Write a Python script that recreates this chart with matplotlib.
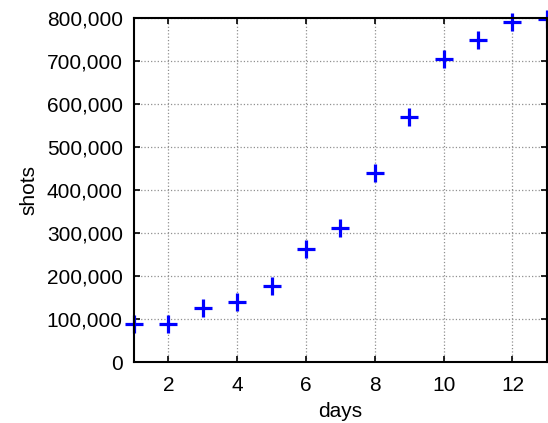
import matplotlib
matplotlib.use("Agg")
import matplotlib.pyplot as plt
from matplotlib.ticker import FuncFormatter

days = [1, 2, 3, 4, 5, 6, 7, 8, 9, 10, 11, 12, 13]
shots = [88000, 88000, 125000, 140000, 177000, 263000, 311000,
         440000, 570000, 706000, 750000, 792000, 797000]

plt.rcParams['font.family'] = ['Liberation Sans', 'DejaVu Sans']
plt.rcParams['font.size'] = 15

fig = plt.figure(figsize=(5.48, 4.23), dpi=100)
ax = fig.add_axes([0.2445, 0.144, 0.7535, 0.813])

ax.plot(days, shots, '+', color='#0000ff', markersize=13, markeredgewidth=2.3,
        clip_on=False)

ax.set_xlim(1, 13)
ax.set_ylim(0, 800000)
ax.set_xticks([2, 4, 6, 8, 10, 12])
ax.set_yticks(range(0, 800001, 100000))
ax.yaxis.set_major_formatter(FuncFormatter(lambda v, p: f"{int(v):,}"))

ax.grid(True, linestyle=':', color='#909090', linewidth=0.9)
ax.tick_params(direction='in', top=True, right=True, length=4, width=1.2)
ax.tick_params(axis='x', pad=10)
ax.tick_params(axis='y', pad=8)
for s in ax.spines.values():
    s.set_linewidth(1.5)

ax.set_xlabel('days', labelpad=5)
ax.set_ylabel('shots', labelpad=6)

fig.savefig('out.png', dpi=100)
